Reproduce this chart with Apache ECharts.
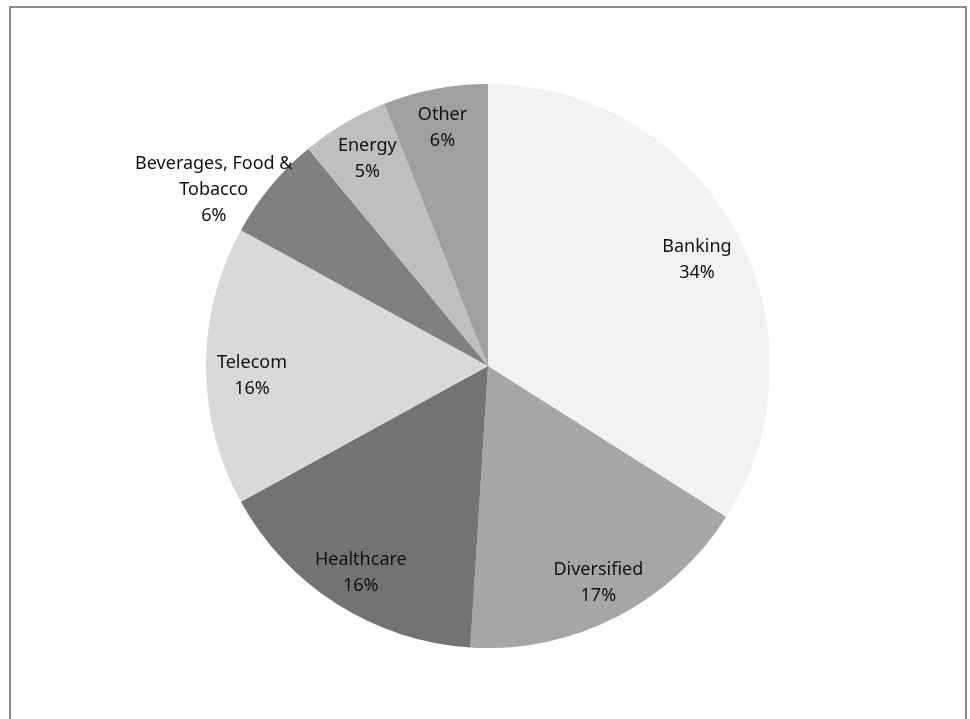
<!DOCTYPE html>
<html>
<head>
<meta charset="utf-8">
<script src="https://cdn.jsdelivr.net/npm/echarts@6/dist/echarts.min.js"></script>
<style>
  html, body { margin: 0; padding: 0; background: #fff; }
  #frame { position: absolute; left: 9px; top: 6px; width: 958px; height: 720px;
           border: 2px solid #8c8c8c; border-bottom: none; box-sizing: border-box; }
  #chart { position: absolute; left: 0; top: 0; width: 970px; height: 719px; }
</style>
</head>
<body>
<div id="frame"></div>
<div id="chart"></div>
<script>
// Sector allocation (percent of portfolio), clockwise from 12 o'clock
const categories = ['Banking', 'Diversified', 'Healthcare', 'Telecom',
                    'Beverages, Food &\nTobacco', 'Energy', 'Other'];
const shares = [34, 17, 16, 16, 6, 5, 6];
const sliceColors = ['#f2f2f2', '#a6a6a6', '#737373', '#d9d9d9', '#808080', '#bfbfbf', '#a0a0a0'];
// small nudges for labels that sit away from the standard label ring
const labelNudge = [[-4, 11], [0, 0], [3, 2], [7, 10], [-87, -21], [3, 2], [0, 1]];

const center = [488, 366];
const outerR = 282;

const sliceData = categories.map((name, i) => ({
  name: name, value: shares[i], itemStyle: { color: sliceColors[i] }
}));

// label ring: a transparent pie whose inner-label position lands near 0.85 r
const labelData = categories.map((name, i) => ({
  name: name, value: shares[i],
  label: { offset: labelNudge[i] }
}));

const chart = echarts.init(document.getElementById('chart'), null, { renderer: 'canvas' });
chart.setOption({
  animation: false,
  series: [
    {
      type: 'pie',
      center: center,
      radius: [0, outerR],
      startAngle: 90,
      clockwise: true,
      silent: true,
      label: { show: false },
      labelLine: { show: false },
      itemStyle: { borderWidth: 0 },
      data: sliceData
    },
    {
      type: 'pie',
      center: center,
      radius: [198, outerR],
      startAngle: 90,
      clockwise: true,
      silent: true,
      itemStyle: { color: 'rgba(0,0,0,0)', borderWidth: 0 },
      labelLine: { show: false },
      label: {
        show: true,
        position: 'inside',
        formatter: p => p.name + '\n' + p.value + '%',
        color: '#111',
        fontFamily: 'Noto Sans',
        fontSize: 18,
        lineHeight: 26,
        align: 'center'
      },
      data: labelData
    }
  ]
});
</script>
</body>
</html>
